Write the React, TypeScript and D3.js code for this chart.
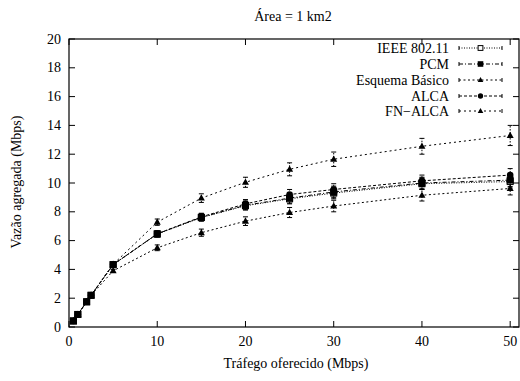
import React from "react";
import * as d3 from "d3";

const xValues = [0.5, 1, 2, 2.5, 5, 10, 15, 20, 25, 30, 40, 50];
const seriesNames = ["IEEE 802.11", "PCM", "Esquema Básico", "ALCA", "FN\u2212ALCA"];
const ieee = [0.42, 0.87, 1.75, 2.2, 4.33, 6.45, 7.6, 8.42, 8.9, 9.3, 9.95, 10.1];
const pcm = [0.42, 0.87, 1.75, 2.2, 4.33, 6.47, 7.62, 8.45, 8.95, 9.38, 10.0, 10.2];
const basico = [0.42, 0.87, 1.75, 2.2, 3.9, 5.5, 6.55, 7.35, 7.95, 8.4, 9.15, 9.62];
const alca = [0.42, 0.87, 1.75, 2.2, 4.33, 6.47, 7.65, 8.55, 9.2, 9.55, 10.15, 10.55];
const fnAlca = [0.42, 0.87, 1.75, 2.2, 4.35, 7.28, 8.95, 10.05, 10.95, 11.65, 12.55, 13.3];
const errSmall = [0.03, 0.04, 0.05, 0.06, 0.1, 0.2, 0.25, 0.3, 0.35, 0.4, 0.4, 0.45];
const errFn = [0.03, 0.04, 0.05, 0.06, 0.1, 0.22, 0.3, 0.35, 0.45, 0.5, 0.55, 0.7];
const xTicks = [0, 10, 20, 30, 40, 50];
const yTicks = [0, 2, 4, 6, 8, 10, 12, 14, 16, 18, 20];

const W = 520, H = 381;
const L = 69, R = 519, T = 39, B = 327;
const ts: React.CSSProperties = { fontFamily: "Liberation Serif, serif", fontSize: 14 };

type Marker = "openSquare" | "square" | "triangle" | "circle";
const series = [
  { name: seriesNames[0], y: ieee, err: errSmall, dash: "1,1.5", marker: "openSquare" as Marker },
  { name: seriesNames[1], y: pcm, err: errSmall, dash: "4,2,1,2", marker: "square" as Marker },
  { name: seriesNames[2], y: basico, err: errSmall, dash: "2,2.5", marker: "triangle" as Marker },
  { name: seriesNames[3], y: alca, err: errSmall, dash: "3,2", marker: "circle" as Marker },
  { name: seriesNames[4], y: fnAlca, err: errFn, dash: "2,3", marker: "triangle" as Marker },
];

function MarkerShape({ type, x, y, s = 1 }: { type: Marker; x: number; y: number; s?: number }) {
  if (type === "openSquare") return <rect x={x - 3 * s} y={y - 3 * s} width={6 * s} height={6 * s} fill="white" stroke="black" strokeWidth={1} />;
  if (type === "square") return <rect x={x - 3.5 * s} y={y - 3.5 * s} width={7 * s} height={7 * s} fill="black" />;
  if (type === "circle") return <circle cx={x} cy={y} r={3.3 * s} fill="black" />;
  return <path d={`M${x},${y - 3.8 * s}L${x + 3.5 * s},${y + 2.5 * s}L${x - 3.5 * s},${y + 2.5 * s}Z`} fill="black" />;
}

export default function App() {
  const x = d3.scaleLinear().domain([0, 51]).range([L, R]);
  const y = d3.scaleLinear().domain([0, 20]).range([B, T]);
  const line = d3.line<number>().x((_, i) => x(xValues[i])).y((d) => y(d));
  const legendY = [48, 64, 80, 96, 111];
  return (
    <svg width={W} height={H} style={{ position: "absolute", left: 0, top: 0, background: "white" }}>
      <text x={293} y={21} textAnchor="middle" style={ts}>Área = 1 km2</text>
      {xTicks.map((t) => (
        <g key={"x" + t}>
          <line x1={x(t)} x2={x(t)} y1={B} y2={B - 6} stroke="black" />
          <line x1={x(t)} x2={x(t)} y1={T} y2={T + 6} stroke="black" />
          <text x={x(t)} y={B + 19} textAnchor="middle" style={ts}>{t}</text>
        </g>
      ))}
      {yTicks.map((t) => (
        <g key={"y" + t}>
          <line x1={L} x2={L + 6} y1={y(t)} y2={y(t)} stroke="black" />
          <line x1={R} x2={R - 6} y1={y(t)} y2={y(t)} stroke="black" />
          <text x={L - 8} y={y(t) + 4.5} textAnchor="end" style={ts}>{t}</text>
        </g>
      ))}
      <rect x={L} y={T} width={R - L} height={B - T} fill="none" stroke="black" strokeWidth={1.2} />
      <text x={296} y={368} textAnchor="middle" style={ts}>Tráfego oferecido (Mbps)</text>
      <text transform={`translate(21,182) rotate(-90)`} textAnchor="middle" style={ts}>Vazão agregada (Mbps)</text>
      {series.map((s, si) => (
        <g key={s.name}>
          <path d={line(s.y) || ""} fill="none" stroke="black" strokeWidth={1} strokeDasharray={s.dash} />
          {s.y.map((v, i) => (
            <g key={i}>
              <line x1={x(xValues[i])} x2={x(xValues[i])} y1={y(v - s.err[i])} y2={y(v + s.err[i])} stroke="black" strokeWidth={1} strokeDasharray="1.5,1.5" />
              <line x1={x(xValues[i]) - 2.5} x2={x(xValues[i]) + 2.5} y1={y(v - s.err[i])} y2={y(v - s.err[i])} stroke="black" strokeWidth={1} />
              <line x1={x(xValues[i]) - 2.5} x2={x(xValues[i]) + 2.5} y1={y(v + s.err[i])} y2={y(v + s.err[i])} stroke="black" strokeWidth={1} />
              <MarkerShape type={s.marker} x={x(xValues[i])} y={y(v)} />
            </g>
          ))}
          <g>
            <text x={449} y={legendY[si] + 5} textAnchor="end" style={ts}>{s.name}</text>
            <line x1={459} x2={502} y1={legendY[si]} y2={legendY[si]} stroke="black" strokeWidth={1} strokeDasharray={s.dash} />
            <line x1={459} x2={459} y1={legendY[si] - 2} y2={legendY[si] + 2} stroke="black" />
            <line x1={502} x2={502} y1={legendY[si] - 2} y2={legendY[si] + 2} stroke="black" />
            <MarkerShape type={s.marker} x={480.5} y={legendY[si]} s={0.8} />
          </g>
        </g>
      ))}
    </svg>
  );
}
